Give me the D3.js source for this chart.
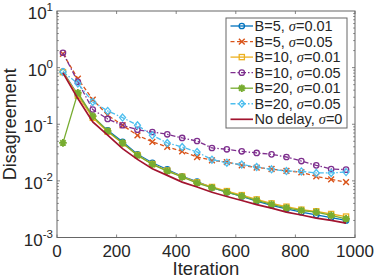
<!DOCTYPE html>
<html><head><meta charset="utf-8">
<script src="https://cdn.jsdelivr.net/npm/d3@7/dist/d3.min.js"></script>
<style>body{margin:0;background:#fff}svg{display:block}</style>
</head><body>
<svg id="c" width="374" height="280"></svg>
<script>
const iterations = [20,70,120,170,220,270,320,370,420,470,520,570,620,670,720,770,820,870,920,970];
const b5s01  = [0.85,0.33,0.135,0.078,0.049,0.0295,0.0209,0.0159,0.012,0.0097,0.0076,0.0063,0.0053,0.0044,0.0037,0.0032,0.0028,0.0025,0.00225,0.002];
const b5s05  = [1.75,0.64,0.273,0.145,0.096,0.0638,0.049,0.0397,0.0333,0.0264,0.0231,0.0215,0.0188,0.0172,0.0162,0.015,0.0142,0.012,0.0106,0.0095];
const b10s01 = [0.83,0.32,0.13,0.074,0.046,0.0285,0.0198,0.0152,0.0119,0.0094,0.0078,0.0066,0.0056,0.0047,0.0040,0.0035,0.0031,0.0029,0.0026,0.00234];
const b10s05 = [1.83,0.56,0.182,0.124,0.096,0.080,0.073,0.0665,0.0573,0.0506,0.0381,0.0361,0.0333,0.0311,0.0294,0.0264,0.0224,0.0188,0.0162,0.0158];
const b20s01 = [0.0468,0.359,0.139,0.0762,0.0468,0.0283,0.0196,0.0149,0.0117,0.00916,0.00757,0.00634,0.0054,0.00452,0.00384,0.00335,0.003,0.00281,0.00246,0.00214];
const b20s05 = [0.84,0.525,0.248,0.172,0.131,0.096,0.0638,0.0467,0.0397,0.0324,0.0237,0.021,0.0194,0.0176,0.016,0.0149,0.0147,0.0138,0.0138,0.0143];
const noDelay = [0.81,0.284,0.11,0.064,0.037,0.024,0.0164,0.0125,0.0095,0.0078,0.0063,0.0053,0.0045,0.0038,0.0033,0.0028,0.0025,0.0022,0.002,0.0018];
const seriesNames = ["B=5, ","B=5, ","B=10, ","B=10, ","B=20, ","B=20, ","No delay, "];
const sigmaLabels = ["=0.01","=0.05","=0.01","=0.05","=0.01","=0.05","=0"];
const xTicks = [0,200,400,600,800,1000];
const yTicks = [-3,-2,-1,0,1];

const series = [
  {v:b5s01,  color:"#0072BD", dash:null,      marker:"circle"},
  {v:b5s05,  color:"#D95319", dash:"4,2.5",   marker:"x"},
  {v:b10s01, color:"#EDB120", dash:null,      marker:"square"},
  {v:b10s05, color:"#7E2F8E", dash:"5,2,1.5,2", marker:"circle"},
  {v:b20s01, color:"#77AC30", dash:null,      marker:"star"},
  {v:b20s05, color:"#4DBEEE", dash:"5,2,1.5,2", marker:"diamond"},
  {v:noDelay,color:"#A2142F", dash:null,      marker:null, width:1.7}
];

const L=57,R=355,T=11,B=237.5;
const svg=d3.select("#c");
const x=d3.scaleLinear().domain([0,1000]).range([L,R]);
const y=d3.scaleLog().domain([1e-3,10]).range([B,T]);
const axisColor="#666", textColor="#262626";

function drawMarker(g,type,cx,cy,color){
  if(type==="circle") g.append("circle").attr("cx",cx).attr("cy",cy).attr("r",2.7).attr("fill","none").attr("stroke",color).attr("stroke-width",1.3);
  else if(type==="square") g.append("rect").attr("x",cx-2.6).attr("y",cy-2.6).attr("width",5.2).attr("height",5.2).attr("fill","none").attr("stroke",color).attr("stroke-width",1.3);
  else if(type==="diamond") g.append("path").attr("d",`M${cx},${cy-3.5}L${cx+3},${cy}L${cx},${cy+3.5}L${cx-3},${cy}Z`).attr("fill","none").attr("stroke",color).attr("stroke-width",1.3);
  else if(type==="x") g.append("path").attr("d",`M${cx-2.9},${cy-2.9}L${cx+2.9},${cy+2.9}M${cx-2.9},${cy+2.9}L${cx+2.9},${cy-2.9}`).attr("stroke",color).attr("stroke-width",1.4);
  else if(type==="star"){
    let d="";
    for(let k=0;k<4;k++){const a=k*Math.PI/4, r=3.8; d+=`M${cx-r*Math.cos(a)},${cy-r*Math.sin(a)}L${cx+r*Math.cos(a)},${cy+r*Math.sin(a)}`;}
    g.append("path").attr("d",d).attr("stroke",color).attr("stroke-width",1.9);
  }
}

// ticks (inward)
const tg=svg.append("g").attr("stroke",axisColor).attr("stroke-width",0.8);
xTicks.forEach(t=>{
  tg.append("line").attr("x1",x(t)).attr("x2",x(t)).attr("y1",B).attr("y2",B-3);
  tg.append("line").attr("x1",x(t)).attr("x2",x(t)).attr("y1",T).attr("y2",T+3);
});
for(let e=-3;e<1;e++){
  for(let m=1;m<10;m++){
    const yy=y(m*Math.pow(10,e)); const len = m===1?3:1.8;
    tg.append("line").attr("x1",L).attr("x2",L+len).attr("y1",yy).attr("y2",yy);
    tg.append("line").attr("x1",R).attr("x2",R-len).attr("y1",yy).attr("y2",yy);
  }
}

// data
const line=d3.line().x((d,i)=>x(iterations[i])).y(d=>y(d));
series.forEach(s=>{
  const g=svg.append("g");
  g.append("path").attr("d",line(s.v)).attr("fill","none").attr("stroke",s.color)
   .attr("stroke-width",s.width||1.3).attr("stroke-dasharray",s.dash);
  if(s.marker) s.v.forEach((d,i)=>drawMarker(g,s.marker,x(iterations[i]),y(d),s.color));
});

// box
svg.append("rect").attr("x",L).attr("y",T).attr("width",R-L).attr("height",B-T).attr("fill","none").attr("stroke",axisColor).attr("stroke-width",1);

// tick labels
const font="'Liberation Sans', Arial, Helvetica, sans-serif";
xTicks.forEach(t=>svg.append("text").attr("x",x(t)).attr("y",B+19.5).attr("text-anchor","middle")
  .attr("font-family",font).attr("font-size",17).attr("fill",textColor).text(t));
yTicks.forEach(e=>{
  const t=svg.append("text").attr("x",53).attr("y",y(Math.pow(10,e))+8).attr("text-anchor","end")
    .attr("font-family",font).attr("font-size",17).attr("fill",textColor);
  t.append("tspan").text("10");
  t.append("tspan").attr("dy",-8).attr("font-size",11.5).text(e<0?"-"+(-e):String(e));
});
svg.append("text").attr("x",(L+R)/2).attr("y",275).attr("text-anchor","middle")
  .attr("font-family",font).attr("font-size",18.5).attr("fill",textColor).text("Iteration");
svg.append("text").attr("transform",`translate(16,${(T+B)/2}) rotate(-90)`).attr("text-anchor","middle")
  .attr("font-family",font).attr("font-size",18).attr("fill",textColor).text("Disagreement");

// legend
const lg=svg.append("g");
lg.append("rect").attr("x",226).attr("y",18).attr("width",121).attr("height",110).attr("fill","#fff").attr("stroke",axisColor).attr("stroke-width",1);
series.forEach((s,i)=>{
  const cy=26+i*15.55;
  lg.append("line").attr("x1",230.5).attr("x2",253).attr("y1",cy).attr("y2",cy).attr("stroke",s.color)
    .attr("stroke-width",s.width||1.3).attr("stroke-dasharray",s.dash);
  if(s.marker) drawMarker(lg,s.marker,241.8,cy,s.color);
  const t=lg.append("text").attr("x",254.5).attr("y",cy+5).attr("font-family",font).attr("font-size",14.5).attr("fill",textColor);
  t.append("tspan").text(seriesNames[i]);
  t.append("tspan").attr("font-family","'Liberation Serif','DejaVu Serif',serif").attr("font-style","italic").text("σ");
  t.append("tspan").text(sigmaLabels[i]);
});
</script>
</body></html>
